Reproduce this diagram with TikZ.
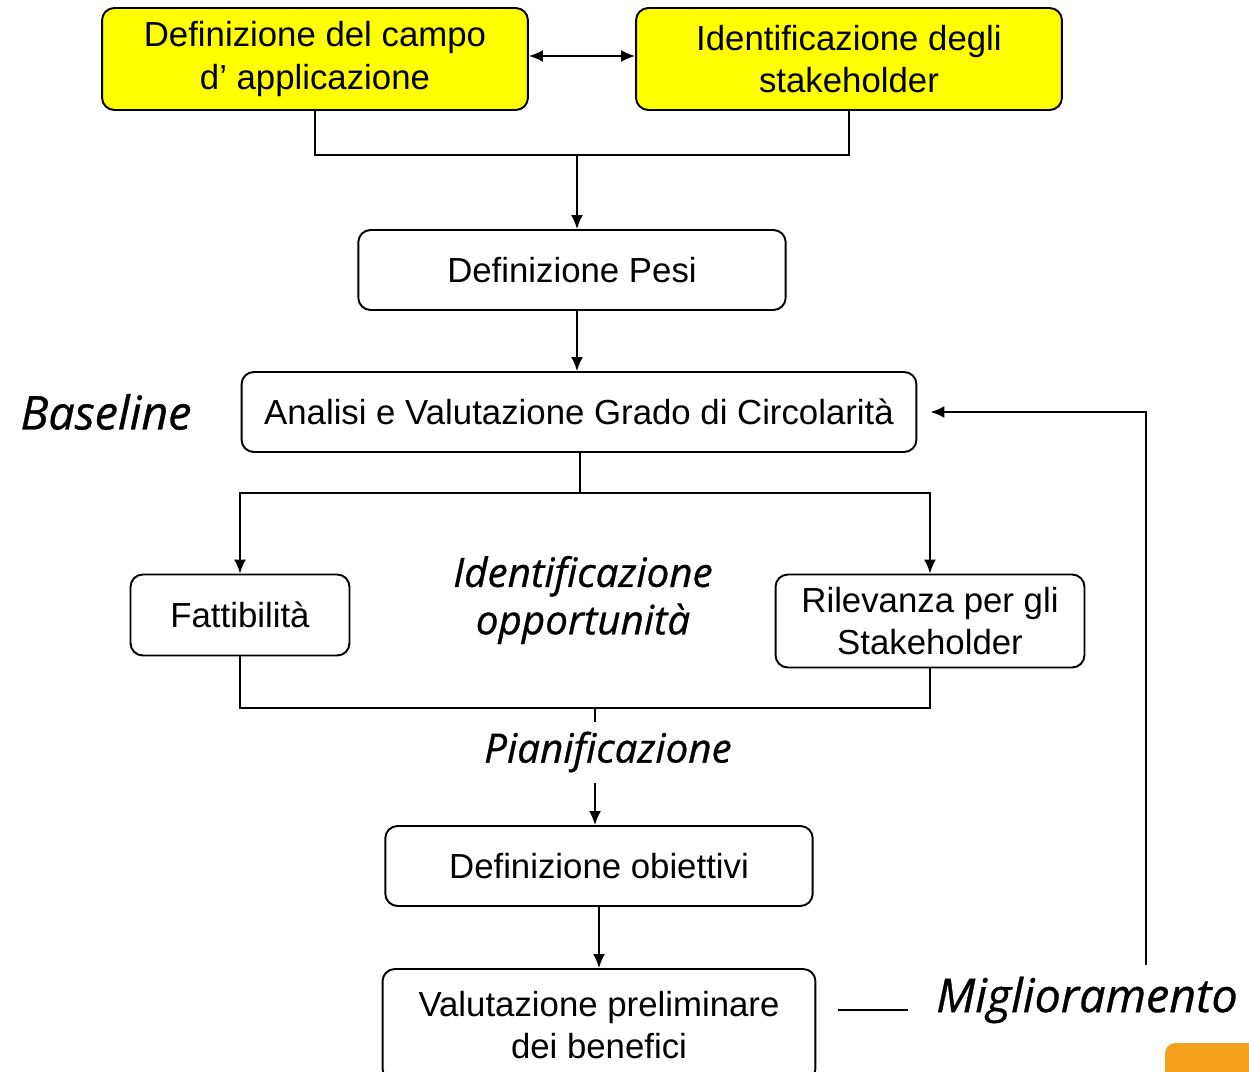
\documentclass[tikz,border=0pt]{standalone}
\usepackage{fontspec}
\setmainfont{Liberation Sans}
\newfontfamily\handfont[ItalicFeatures={FakeBold=0.7}]{Open Sans}
\usetikzlibrary{arrows.meta,positioning}
\definecolor{giallo}{RGB}{255,255,0}
\definecolor{arancio}{RGB}{247,162,30}
\tikzset{
  basic/.style  = {draw, rectangle, rounded corners=7pt, line width=1.1pt, align=center,
                   inner sep=0pt, font=\fontsize{19.8}{24}\selectfont},
  fase/.style   = {basic, minimum width=8.55cm, minimum height=1.6cm},
  giallo/.style = {basic, fill=giallo, minimum width=8.52cm, minimum height=2.04cm},
  etichetta/.style = {font=\handfont\itshape\fontsize{23}{27}\selectfont, align=center, inner sep=0pt},
  grande/.style = {etichetta, font=\handfont\itshape\fontsize{26.5}{30}\selectfont}
}
\begin{document}
\begin{tikzpicture}[x=0.02cm,y=-0.02cm,>={Latex[length=2.8mm,width=2.4mm]},line width=1.1pt]
  \useasboundingbox (0,0) rectangle (1249,1072);
  % nodi in alto
  \node[giallo] (campo) at (315,59) {Definizione del campo\\d' applicazione};
  \node[giallo] (stake) at (849,59) {Identificazione degli\\stakeholder};
  \node[fase] (pesi) at (572,270) {Definizione Pesi};
  \node[fase, minimum width=13.5cm] (analisi) at (579,412) {Analisi e Valutazione Grado di Circolarità};
  \node[grande] (base) at (106,412) {Baseline};
  \node[basic, minimum width=4.38cm, minimum height=1.62cm] (fatt) at (240,615) {Fattibilità};
  \node[basic, minimum width=6.18cm, minimum height=1.86cm] (rilev) at (930,621) {Rilevanza per gli\\Stakeholder};
  \node[etichetta] (opport) at (583,600) {Identificazione\\opportunità};
  \node[etichetta] (pian) at (608,752) {Pianificazione};
  \node[fase] (obiett) at (599,866) {Definizione obiettivi};
  \node[basic, minimum width=8.66cm, minimum height=2.24cm] (valut) at (599,1025) {Valutazione preliminare\\dei benefici};
  \node[grande] (migl) at (1087,1000) {Miglioramento};
  % connettori
  \coordinate (giunto) at (577,155);
  \coordinate (ramo) at (580,493);
  \coordinate (unione) at (595,708);
  \coordinate (ritorno) at (1146,965);
  \coordinate (trattino) at (838,1010);
  \draw[<->] (campo.east |- 0,56) -- (stake.west |- 0,56);
  \draw (campo.south) |- (stake.south |- giunto) -- (stake.south);
  \draw[->] (giunto) -- (pesi.north -| giunto);
  \draw[->] (pesi.south -| giunto) -- (analisi.north -| giunto);
  \draw (analisi.south -| ramo) -- (ramo);
  \draw[->] (ramo) -| (fatt.north);
  \draw[->] (ramo) -| (rilev.north);
  \draw (fatt.south) |- (unione) -| (rilev.south);
  \draw (unione) -- ++(0,14);
  \draw[->] (pian.south -| unione) ++(0,10) -- (obiett.north -| unione);
  \draw[->] (obiett) -- (valut);
  \draw (trattino) -- ++(70,0);
  \draw[->, shorten >=0.26cm] (ritorno) |- (analisi.east);
  \fill[arancio, rounded corners=6pt] (1165,1043) rectangle (1270,1100);
\end{tikzpicture}
\end{document}
